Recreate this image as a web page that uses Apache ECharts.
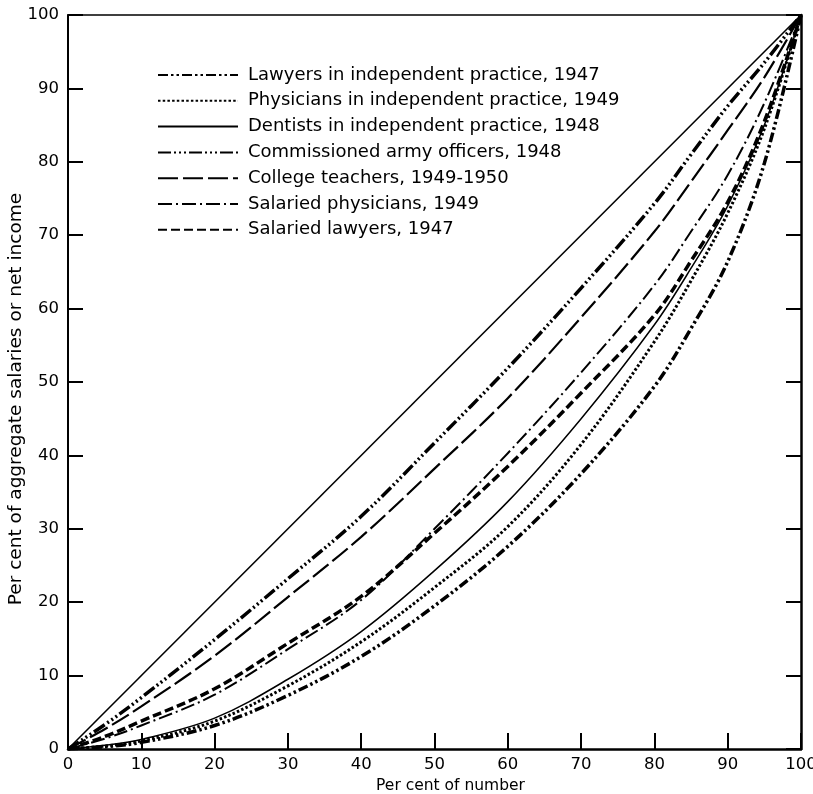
<!DOCTYPE html>
<html>
<head>
<meta charset="utf-8">
<script src="https://cdn.jsdelivr.net/npm/echarts@6/dist/echarts.min.js"></script>
<style>
  html, body { margin: 0; padding: 0; background: #fff; }
  #chart { width: 813px; height: 794px; }
</style>
</head>
<body>
<div id="chart"></div>
<script>
// per cent of number (x) and per cent of income (y)
var pctNumber  = [0, 5, 10, 20, 30, 40, 50, 60, 70, 80, 85, 90, 95, 100];
var lawyersInd = [0, 0.3, 0.9, 3.2, 7.3, 12.6, 19.5, 27.6, 37.5, 49.4, 57.3, 66.4, 79.8, 100];
var physInd    = [0, 0.4, 1.1, 3.8, 8.6, 14.6, 22, 30.3, 41.5, 55.5, 63.8, 73, 84.5, 100];
var dentists   = [0, 0.5, 1.3, 4.2, 9.5, 16, 24.3, 33.7, 45, 57.8, 65.5, 74, 85, 100];
var armyOff    = [0, 3.3, 7, 14.9, 23.2, 31.7, 41.7, 51.9, 62.8, 74.3, 81, 87.6, 93.5, 100];
var college    = [0, 2.7, 5.8, 12.7, 20.7, 28.9, 38.2, 47.8, 58.8, 70.5, 77.3, 84.3, 91.5, 100];
var salPhys    = [0, 1.4, 3.2, 7.4, 13.6, 20.3, 30, 40.3, 51.3, 63.2, 70.5, 78.2, 88, 100];
var salLawyers = [0, 1.7, 3.8, 8.2, 14.4, 20.8, 29.4, 38.5, 48.5, 59.1, 66.5, 74.5, 85.5, 100];
var equality   = [0, 100];

var names = [
  'Lawyers in independent practice, 1947',
  'Physicians in independent practice, 1949',
  'Dentists in independent practice, 1948',
  'Commissioned army officers, 1948',
  'College teachers, 1949-1950',
  'Salaried physicians, 1949',
  'Salaried lawyers, 1947'
];

function pairs(ys) {
  return pctNumber.map(function (x, i) { return [x, ys[i]]; });
}

function curve(name, ys, width, dash) {
  return {
    name: name,
    type: 'line',
    data: pairs(ys),
    smooth: 0.35,
    symbol: 'none',
    silent: true,
    color: '#000',
    itemStyle: { color: '#000' },
    lineStyle: { color: '#000', width: width, type: dash }
  };
}

var font = 'DejaVu Sans';
var myChart = echarts.init(document.getElementById('chart'), null, { renderer: 'canvas' });

var option = {
  backgroundColor: '#fff',
  animation: false,
  grid: { left: 68, right: 12, top: 15, bottom: 45, outerBoundsMode: 'none', containLabel: false },
  legend: {
    data: names,
    orient: 'vertical',
    left: 157,
    top: 66,
    itemWidth: 80,
    itemHeight: 14,
    itemGap: 7.8,
    padding: 0,
    selectedMode: false,
    itemStyle: { opacity: 0 },
    textStyle: { fontFamily: font, fontSize: 18, color: '#000', padding: [0, 0, 0, 5] }
  },
  xAxis: [{
    type: 'value', min: 0, max: 100, interval: 10,
    name: 'Per cent of number', nameLocation: 'middle', nameGap: 29, nameMoveOverlap: false,
    nameTextStyle: { fontFamily: font, fontSize: 15.5, color: '#000', padding: [0, 0, 0, 32] },
    axisLine: { lineStyle: { color: '#000', width: 2.5 } },
    axisTick: { inside: true, length: 16, lineStyle: { color: '#000', width: 2 } },
    axisLabel: { margin: 7, fontFamily: font, fontSize: 16.5, color: '#000' },
    splitLine: { show: false }
  }, {
    type: 'value', position: 'top', min: 0, max: 100,
    axisLine: { show: true, onZero: false, lineStyle: { color: '#000', width: 1.5 } },
    axisTick: { show: false }, axisLabel: { show: false }, splitLine: { show: false }
  }],
  yAxis: [{
    type: 'value', min: 0, max: 100, interval: 10,
    name: 'Per cent of aggregate salaries or net income', nameLocation: 'middle', nameGap: 42,
    nameMoveOverlap: false,
    nameTextStyle: { fontFamily: font, fontSize: 18.5, color: '#000', padding: [0, 34, 0, 0] },
    axisLine: { show: true, lineStyle: { color: '#000', width: 2 } },
    axisTick: { show: true, inside: true, length: 15, lineStyle: { color: '#000', width: 2 } },
    axisLabel: { margin: 9, fontFamily: font, fontSize: 16.5, color: '#000' },
    splitLine: { show: false }
  }, {
    type: 'value', position: 'right', min: 0, max: 100, interval: 10,
    axisLine: { show: true, onZero: false, lineStyle: { color: '#000', width: 2.5 } },
    axisTick: { show: true, inside: true, length: 15, lineStyle: { color: '#000', width: 2 } },
    axisLabel: { show: false }, splitLine: { show: false }
  }],
  series: [
    curve(names[0], lawyersInd, 3.5, [10, 3, 2.5, 3, 2.5, 3]),
    curve(names[1], physInd, 3, [2.5, 2.2]),
    curve(names[2], dentists, 1.5, 'solid'),
    curve(names[3], armyOff, 3.5, [13, 3, 2, 3, 2, 3, 2, 3]),
    curve(names[4], college, 2.2, [20, 5]),
    curve(names[5], salPhys, 2, [14, 4, 2, 4]),
    curve(names[6], salLawyers, 3.5, [9, 4]),
    {
      type: 'line',
      data: [[0, equality[0]], [100, equality[1]]],
      symbol: 'none',
      silent: true,
      color: '#000',
      lineStyle: { color: '#000', width: 1.6, type: 'solid' }
    }
  ]
};

myChart.setOption(option);
</script>
</body>
</html>
